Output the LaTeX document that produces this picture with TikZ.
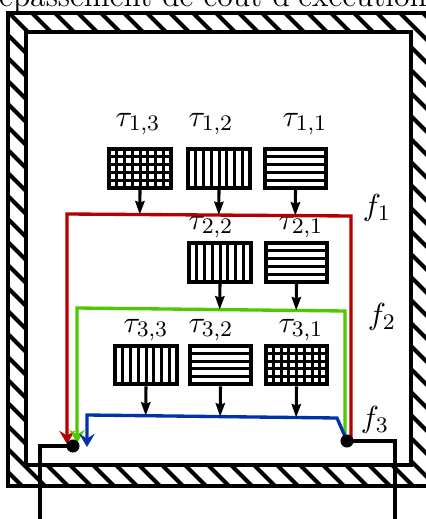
\documentclass[tikz,border=0pt]{standalone}
\usepackage{fontspec}
\usetikzlibrary{arrows.meta,calc}
\definecolor{cred}{RGB}{180,0,0}
\definecolor{cgreen}{RGB}{80,200,0}
\definecolor{cblue}{RGB}{0,50,170}
\begin{document}
\begin{tikzpicture}[x=0.36pt,y=-0.36pt,
  frame/.style={line width=1.4pt},
  tbox/.style={draw,line width=1.45pt,minimum width=22.3pt,minimum height=14pt,inner sep=0pt},
  vl/.style={path picture={\foreach \k in {1,...,7}
      \draw[line width=1.08pt] ([xshift=\k*2.79pt]path picture bounding box.south west) -- ([xshift=\k*2.79pt]path picture bounding box.north west);}},
  hl/.style={path picture={\foreach \k in {1,...,4}
      \draw[line width=1.08pt] ([yshift=\k*2.8pt]path picture bounding box.south west) -- ([yshift=\k*2.8pt]path picture bounding box.south east);}},
  gr/.style={path picture={\foreach \k in {1,...,7}
      \draw[line width=1.08pt] ([xshift=\k*2.79pt]path picture bounding box.south west) -- ([xshift=\k*2.79pt]path picture bounding box.north west);
      \foreach \k in {1,...,4}
      \draw[line width=1.08pt] ([yshift=\k*2.8pt]path picture bounding box.south west) -- ([yshift=\k*2.8pt]path picture bounding box.south east);}},
  arr/.style={line width=1.1pt,-{Stealth[length=4.8pt,width=3.3pt,inset=0.5pt]}},
  cline/.style={line width=1.2pt,-{Stealth[length=4.8pt,width=5.6pt,inset=1.8pt]}},
  blk/.style={line width=1.25pt},
  dot/.style={circle,fill=black,minimum size=4.7pt,inner sep=0pt},
  lab/.style={inner sep=0pt,font=\fontsize{11.3}{13}\selectfont}
]
\useasboundingbox (0,0) rectangle (425,519);
% title
\node[anchor=base west,inner sep=0pt,font=\fontsize{11.4}{13}\selectfont] (title) at (-25,7) {Dépassement de coût d'exécution [\dots]};
% hatched frame
\begin{scope}
\clip (8,13) rectangle (430,486);
\foreach \c in {-510,-487,...,440} \draw[line width=1.45pt] (\c,0) -- ++(540,540);
\end{scope}
\fill[white] (26,32) rectangle (411,465);
\draw[frame] (8,13) rectangle (430,486);
\draw[frame] (26,32) rectangle (411,465);
% junction points
\coordinate (pL) at (73,446);
\coordinate (pR) at (347,441);
% boxes
\node[tbox,gr] (t13) at (140,168.5) {};
\node[tbox,vl] (t12) at (219,168.5) {};
\node[tbox,hl] (t11) at (295.5,168.5) {};
\node[tbox,vl] (t22) at (220,262.5) {};
\node[tbox,hl] (t21) at (296.5,262.5) {};
\node[tbox,vl] (t33) at (146,365) {};
\node[tbox,hl] (t32) at (220.5,365) {};
\node[tbox,gr] (t31) at (296.5,365) {};
% labels
\node[lab] (l13) at (138,124) {$\tau_{1,3}$};
\node[lab] (l12) at (211,124) {$\tau_{1,2}$};
\node[lab] (l11) at (305,124) {$\tau_{1,1}$};
\node[lab] (l22) at (211,227) {$\tau_{2,2}$};
\node[lab] (l21) at (301,227) {$\tau_{2,1}$};
\node[lab] (l33) at (146,330) {$\tau_{3,3}$};
\node[lab] (l32) at (211,330) {$\tau_{3,2}$};
\node[lab] (l31) at (301,330) {$\tau_{3,1}$};
\node[lab] (f1) at (377,208) {$f_1$};
\node[lab] (f2) at (382,317) {$f_2$};
\node[lab] (f3) at (375,420) {$f_3$};
% coloured lines
\coordinate (rA) at (67,214);  \coordinate (rB) at (351,216);
\coordinate (gA) at (77,308);  \coordinate (gB) at (345,311);
\coordinate (bA) at (87,415);  \coordinate (bB) at (337,418);
\coordinate (rT) at (67,444);
\coordinate (gT) at (77,443);
\coordinate (bT) at (87,447);
\draw[cline,cred] ([xshift=1.45pt]pR) -- (rB) -- (rA) -- (rT);
\draw[cline,cgreen] ([xshift=-0.72pt]pR) -- (gB) -- (gA) -- (gT);
\draw[cline,cblue] (pR) -- (bB) -- (bA) -- (bT);
% black arrows
\draw[arr] (t13.south) -- ($(rA)!(t13.south)!(rB)$);
\draw[arr] (t12.south) -- ($(rA)!(t12.south)!(rB)$);
\draw[arr] (t11.south) -- ($(rA)!(t11.south)!(rB)$);
\draw[arr] (t22.south) -- ($(gA)!(t22.south)!(gB)$);
\draw[arr] (t21.south) -- ($(gA)!(t21.south)!(gB)$);
\draw[arr] (t33.south) -- ($(bA)!(t33.south)!(bB)$);
\draw[arr] (t32.south) -- ($(bA)!(t32.south)!(bB)$);
\draw[arr] (t31.south) -- ($(bA)!(t31.south)!(bB)$);
% bottom black lines
\coordinate (eL) at (40,530);
\coordinate (eR) at (395,530);
\draw[blk] (pL) -- (40,446) -- (eL);
\draw[blk] (pR) -- (395,441) -- (eR);
\node[dot] (dotL) at (pL) {};
\node[dot] (dotR) at (pR) {};
\end{tikzpicture}
\end{document}
